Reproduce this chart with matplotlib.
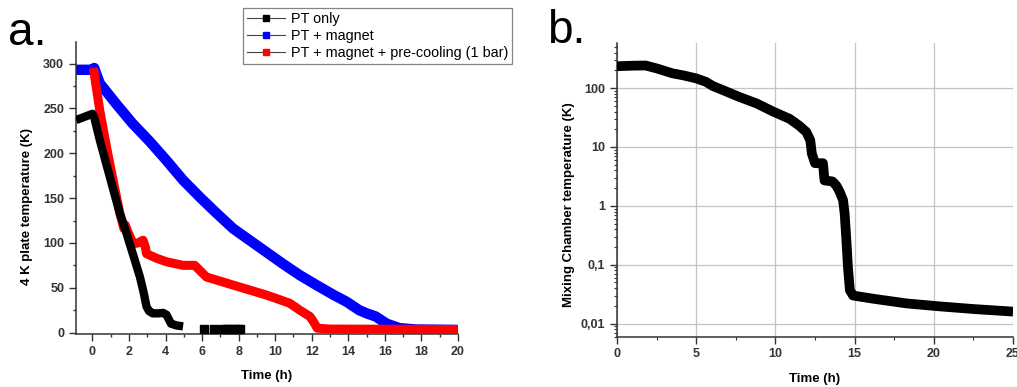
import matplotlib
matplotlib.use("Agg")
import matplotlib.pyplot as plt
import numpy as np
from matplotlib.lines import Line2D
from matplotlib.ticker import MultipleLocator, FixedLocator, FuncFormatter, LogLocator, NullFormatter

plt.rcParams['font.family'] = ['Liberation Sans', 'DejaVu Sans']

# ---------- panel a data ----------
black_x = [-0.9, -0.5, 0.0, 0.1, 0.4, 0.8, 1.2, 1.5, 1.8, 2.04, 2.3, 2.6, 2.8, 2.96, 3.1, 3.3, 3.6, 3.87, 4.05, 4.2, 4.3, 4.6, 4.96]
black_y = [237, 240, 244, 240, 215, 185, 155, 133, 115, 99, 82, 62, 45, 29, 24, 21.5, 21.5, 22, 20, 14, 10, 8, 7]
black_tail_x = [6.1, 6.65, 7.15, 7.35, 7.55, 7.75, 7.95, 8.1]
black_tail_y = [4.5, 4, 3.5, 3.5, 3.5, 3.5, 3.5, 3.5]

blue_x = [-0.9, 0.0, 0.1, 0.4, 1.3, 2.2, 3.14, 4.05, 4.96, 5.88, 6.8, 7.7, 8.6, 9.5, 10.4, 11.35, 12.26, 13.2, 13.9, 14.6, 15.0, 15.5, 16.1, 16.8, 17.7, 20.0]
blue_y = [293, 293, 295, 278, 255, 233, 213, 192, 170, 151, 133, 116, 103, 90, 77, 64, 53, 42, 34.5, 25, 21.5, 18, 10, 5, 3.5, 3]

red_x = [0.05, 0.2, 0.4, 0.77, 1.13, 1.5, 1.72, 1.8, 1.95, 2.23, 2.5, 2.77, 2.9, 2.96, 3.5, 4.05, 4.96, 5.6, 6.24, 7.7, 8.6, 9.5, 10.07, 10.8, 11.35, 11.9, 12.1, 12.3, 13.0, 20.0]
red_y = [295, 275, 248, 207, 170, 133, 116, 120, 112, 99, 100, 103, 95, 88, 83, 79, 75, 75, 62, 53, 47.5, 42, 38, 32.7, 25, 18, 12, 5, 4, 3.5]

a_xticks = [0, 2, 4, 6, 8, 10, 12, 14, 16, 18, 20]
a_yticks = [0, 50, 100, 150, 200, 250, 300]

# ---------- panel b data ----------
mc_x = [0.0, 1.0, 1.8, 2.5, 3.5, 4.2, 5.0, 5.6, 6.06, 6.7, 7.7, 8.8, 9.85, 10.9, 11.5, 11.95, 12.2, 12.3, 12.5, 13.0, 13.1, 13.6, 13.85, 14.05, 14.27, 14.37, 14.48, 14.58, 14.7, 14.9, 16.2, 18.3, 20.4, 22.5, 25.0]
mc_y = [235, 240, 242, 216, 178, 164, 146, 128, 108, 92, 71, 55, 40, 30, 23, 18, 13, 7.7, 5.3, 5.3, 2.7, 2.6, 2.2, 1.75, 1.25, 0.74, 0.26, 0.09, 0.037, 0.030, 0.0264, 0.022, 0.0196, 0.0177, 0.0160]

b_xticks = [0, 5, 10, 15, 20, 25]
b_yticks = [0.01, 0.1, 1, 10, 100]
b_yticklabels = ['0,01', '0,1', '1', '10', '100']

legend_labels = ['PT only', 'PT + magnet', 'PT + magnet + pre-cooling (1 bar)']
series_colors = ['#000000', '#0000ff', '#ff0000']

fig = plt.figure(figsize=(10.17, 3.87), dpi=100)

# ---------------- panel a ----------------
ax1 = fig.add_axes([0.0747, 0.137, 0.3756, 0.7545])
ax1.plot(blue_x, blue_y, color=series_colors[1], lw=7.5, solid_capstyle='butt', solid_joinstyle='round', zorder=2)
ax1.plot(red_x, red_y, color=series_colors[2], lw=6.5, solid_capstyle='butt', solid_joinstyle='round', zorder=3)
ax1.plot(black_x, black_y, color=series_colors[0], lw=6, solid_capstyle='butt', solid_joinstyle='round', zorder=4)
ax1.plot(black_tail_x, black_tail_y, ls='none', marker='s', ms=6, color=series_colors[0], zorder=4)
ax1.set_xlim(-0.9, 20)
ax1.set_ylim(-1.5, 324)
ax1.xaxis.set_major_locator(FixedLocator(a_xticks))
ax1.xaxis.set_minor_locator(MultipleLocator(1))
ax1.yaxis.set_major_locator(FixedLocator(a_yticks))
ax1.yaxis.set_minor_locator(MultipleLocator(25))
ax1.set_xlabel('Time (h)', fontsize=9.5, fontweight='bold', labelpad=9)
ax1.set_ylabel('4 K plate temperature (K)', fontsize=9.5, fontweight='bold')
ax1.yaxis.set_label_coords(-0.113, 0.435)
for s in ['top', 'right']:
    ax1.spines[s].set_visible(False)
for s in ['left', 'bottom']:
    ax1.spines[s].set_linewidth(1.1)
    ax1.spines[s].set_color('#333333')
ax1.tick_params(which='major', direction='out', length=5, width=1, labelsize=9, colors='#333333')
ax1.tick_params(which='minor', direction='out', length=2.5, width=1, colors='#333333')
for lab in ax1.get_xticklabels() + ax1.get_yticklabels():
    lab.set_fontweight('bold')

handles = [Line2D([0], [0], color='#444444', lw=0.8, marker='s', ms=4.5,
                  markerfacecolor=c, markeredgecolor=c) for c in series_colors]
leg = fig.legend(handles, legend_labels, loc='upper left', bbox_to_anchor=(243/1017, 1 - 8/387),
                 fontsize=10.4, frameon=True, fancybox=False, handlelength=2.6, handletextpad=0.4,
                 labelspacing=0.2, borderpad=0.3, borderaxespad=0)
leg.get_frame().set_edgecolor('#666666')
leg.get_frame().set_linewidth(0.9)

fig.text(0.008, 0.885, 'a.', fontsize=33)

# ---------------- panel b ----------------
ax2 = fig.add_axes([0.6067, 0.13, 0.3894, 0.7597])
ax2.set_yscale('log')
ax2.plot(mc_x, mc_y, color='black', lw=7, solid_capstyle='butt', solid_joinstyle='round', zorder=3)
ax2.set_xlim(0, 25)
ax2.set_ylim(0.006, 590)
ax2.xaxis.set_major_locator(FixedLocator(b_xticks))
ax2.xaxis.set_minor_locator(MultipleLocator(2.5))
ax2.yaxis.set_major_locator(FixedLocator(b_yticks))
ax2.yaxis.set_major_formatter(FuncFormatter(lambda v, p: dict(zip(b_yticks, b_yticklabels)).get(round(v, 5), '')))
ax2.yaxis.set_minor_locator(LogLocator(base=10, subs=np.arange(2, 10) * 1.0, numticks=20))
ax2.yaxis.set_minor_formatter(NullFormatter())
ax2.grid(True, which='major', color='#c4c4c4', lw=0.9)
ax2.set_axisbelow(True)
ax2.set_xlabel('Time (h)', fontsize=9.5, fontweight='bold', labelpad=9)
ax2.set_ylabel('Mixing Chamber temperature (K)', fontsize=9.5, fontweight='bold')
ax2.yaxis.set_label_coords(-0.105, 0.448)
for s in ['top', 'right']:
    ax2.spines[s].set_visible(False)
for s in ['left', 'bottom']:
    ax2.spines[s].set_linewidth(1.1)
    ax2.spines[s].set_color('#333333')
ax2.tick_params(which='major', direction='out', length=5, width=1, labelsize=9, colors='#333333')
ax2.tick_params(which='minor', direction='out', length=2.5, width=0.8, colors='#333333')
for lab in ax2.get_xticklabels() + ax2.get_yticklabels():
    lab.set_fontweight('bold')

fig.text(0.538, 0.89, 'b.', fontsize=33)

fig.savefig('out.png', dpi=100)
